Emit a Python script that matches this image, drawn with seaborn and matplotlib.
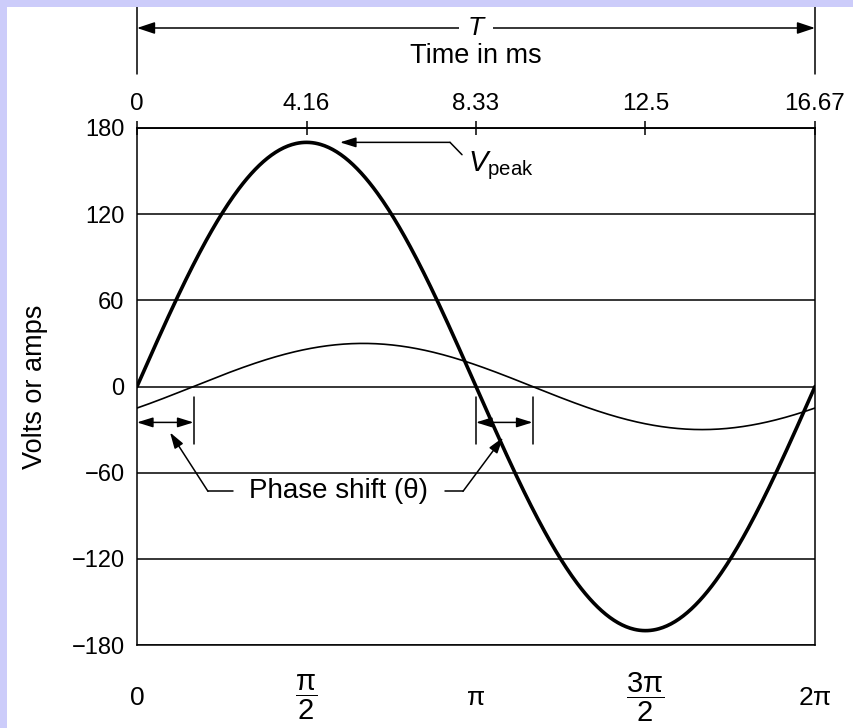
import numpy as np
import pandas as pd
import matplotlib
matplotlib.use("Agg")
import matplotlib.pyplot as plt
import seaborn as sns
from matplotlib import font_manager
from matplotlib.patches import Rectangle
from matplotlib.transforms import blended_transform_factory

# --- values ---
v_peak = 170            # volts, big wave
i_peak = 30             # small wave
phase_deg = 30          # small wave lags by this
period_ms = 16.67

y_ticks = [-180, -120, -60, 0, 60, 120, 180]
y_labels = ["\u2212180", "\u2212120", "\u221260", "0", "60", "120", "180"]
rad_ticks = [0, np.pi / 2, np.pi, 3 * np.pi / 2, 2 * np.pi]
rad_labels = ["0", r"$\dfrac{\mathrm{\pi}}{2}$", r"$\mathrm{\pi}$",
              r"$\dfrac{3\mathrm{\pi}}{2}$", r"$2\mathrm{\pi}$"]
ms_ticks = [0, 4.1675, 8.335, 12.5025, 16.67]
ms_labels = ["0", "4.16", "8.33", "12.5", "16.67"]

# --- fonts / colours ---
sns.set_theme(style="white")
names = {f.name for f in font_manager.fontManager.ttflist}
narrow = "Liberation Sans Narrow" if "Liberation Sans Narrow" in names else "Liberation Sans"
plt.rcParams["font.family"] = ["Liberation Sans", "DejaVu Sans"]
plt.rcParams["mathtext.fontset"] = "custom"
plt.rcParams["mathtext.rm"] = narrow
plt.rcParams["mathtext.it"] = "Liberation Sans:italic"
plt.rcParams["mathtext.bf"] = narrow + ":bold"
for k in ("text.color", "axes.labelcolor", "xtick.color", "ytick.color", "axes.edgecolor"):
    plt.rcParams[k] = "black"

theta = np.linspace(0, 2 * np.pi, 500)
phase = np.deg2rad(phase_deg)
df = pd.DataFrame({
    "theta": theta,
    "volts": v_peak * np.sin(theta),
    "amps": i_peak * np.sin(theta - phase),
})

fig = plt.figure(figsize=(8.54, 7.28), dpi=100, facecolor="white")
ax = fig.add_axes([137 / 854, 83 / 728, 678 / 854, 517 / 728])
ax.set_facecolor("white")

sns.lineplot(data=df, x="theta", y="volts", color="black", linewidth=2.6, ax=ax, zorder=4)
sns.lineplot(data=df, x="theta", y="amps", color="black", linewidth=1.2, ax=ax, zorder=4)

ax.set_xlim(0, 2 * np.pi)
ax.set_ylim(-180, 180)
ax.set_yticks(y_ticks, y_labels)
ax.grid(axis="y", color="black", linewidth=1.1)
ax.grid(axis="x", visible=False)
for s in ax.spines.values():
    s.set_visible(True)
    s.set_color("black")
    s.set_linewidth(1.1)

ax.tick_params(axis="y", length=0, pad=9, labelsize=17, labelcolor="black")
ax.set_xticks(rad_ticks, rad_labels)
ax.tick_params(axis="x", direction="inout", length=10, width=1.1, color="black",
               pad=33, labelsize=21, labelcolor="black")
for lab in ax.get_xticklabels():
    lab.set_verticalalignment("center")
    if "dfrac" not in lab.get_text():
        lab.set_fontsize(19)
ax.set_xlabel("")
ax.set_ylabel("Volts or amps", fontsize=19.5, family=narrow, color="black")
ax.yaxis.set_label_coords(-0.132, 0.5)

# top axis in milliseconds
top = ax.secondary_xaxis("top", functions=(lambda r: r * period_ms / (2 * np.pi),
                                           lambda t: t * 2 * np.pi / period_ms))
top.set_xticks(ms_ticks, ms_labels)
top.tick_params(direction="inout", length=10, width=1.1, color="black", pad=4.5,
                labelsize=17.5, labelcolor="black")
for lab in top.get_xticklabels():
    lab.set_family(narrow)
top.spines["top"].set_linewidth(1.1)
top.set_xlabel("")

# period dimension above the chart
bt = blended_transform_factory(ax.transData, fig.transFigure)
for xv in (0, 2 * np.pi):
    ax.plot([xv, xv], [1 - 7 / 728, 1 - 74 / 728], color="black", lw=1.1,
            transform=bt, clip_on=False)
ax.annotate("", xy=(2 * np.pi, 1 - 28 / 728), xytext=(0, 1 - 28 / 728),
            xycoords=bt, textcoords=bt,
            arrowprops=dict(arrowstyle="<|-|>,head_length=0.9,head_width=0.3",
                            color="black", lw=1.1, shrinkA=0, shrinkB=0))
ax.text(np.pi, 1 - 28 / 728, "T", transform=bt, ha="center", va="center",
        fontsize=19, style="italic",
        bbox=dict(facecolor="white", edgecolor="none", pad=6))
ax.text(np.pi, 1 - 56 / 728, "Time in ms", transform=bt, ha="center", va="center",
        fontsize=19.5, family=narrow)

# phase shift markers
arr = dict(arrowstyle="<|-|>,head_length=0.8,head_width=0.25", color="black",
           lw=1.1, shrinkA=0, shrinkB=0)
for x0 in (0, np.pi):
    x1 = x0 + phase
    ax.annotate("", xy=(x1, -25), xytext=(x0, -25), arrowprops=arr, zorder=5)
    for xv in ((x1,) if x0 == 0 else (x0, x1)):
        ax.plot([xv, xv], [-7, -40], color="black", lw=1.1, zorder=5)

one = dict(arrowstyle="-|>,head_length=0.8,head_width=0.25", color="black",
           lw=1.1, shrinkA=0, shrinkB=0)
ax.text(1.863, -73, "Phase shift (\u03b8)", ha="center", va="center", fontsize=20, zorder=6)
ax.plot([0.890, 0.658], [-73, -73], color="black", lw=1.1)
ax.annotate("", xy=(0.306, -32), xytext=(0.658, -73), arrowprops=one)
ax.plot([2.854, 3.021], [-73, -73], color="black", lw=1.1)
ax.annotate("", xy=(3.392, -35.5), xytext=(3.021, -73), arrowprops=one, zorder=5)

# V peak label
ax.plot([2.901, 3.012], [v_peak, 161.4], color="black", lw=1.1)
ax.annotate("", xy=(1.881, v_peak), xytext=(2.901, v_peak), arrowprops=one)
ax.text(3.068, 150, r"$V_{\mathrm{peak}}$", ha="left", va="baseline", fontsize=21)

# lavender frame
fig.patches.append(Rectangle((0, 1 - 7 / 728), 1, 7 / 728, transform=fig.transFigure,
                             facecolor="#ccccfa", edgecolor="none", zorder=0))
fig.patches.append(Rectangle((0, 0), 7 / 854, 1, transform=fig.transFigure,
                             facecolor="#ccccfa", edgecolor="none", zorder=0))

fig.savefig("out.png", dpi=100)
